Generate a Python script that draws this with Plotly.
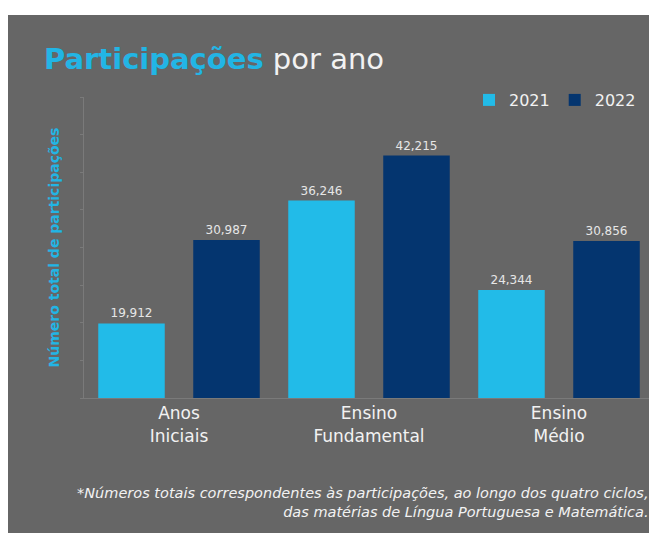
import plotly.graph_objects as go

categories = ["Anos<br>Iniciais", "Ensino<br>Fundamental", "Ensino<br>Médio"]
years = ["2021", "2022"]
values_2021 = [19912, 36246, 24344]
values_2022 = [30987, 42215, 30856]

W, H = 657, 533
OFF = 8  # page body margin: screen px = figure px + 8
# plot area in screen pixels
SX0, SX1, SY0, SY1 = 84, 654, 97, 398
L, T = SX0 - OFF, SY0 - OFF
R, B = W - (SX1 - OFF), H - (SY1 - OFF)
PW, PH = W - L - R, H - T - B

def px_x(x):
    return (x - SX0) / PW

def px_y(y):
    return (SY1 - y) / PH

BG = "#666666"
C1 = "#22BBE8"
C2 = "#04356F"
TXT = "#F2F2F2"
FONT = "DejaVu Sans"
AX = "#7A7A7A"

fig = go.Figure()
for name, vals, col in [(years[0], values_2021, C1), (years[1], values_2022, C2)]:
    fig.add_trace(go.Bar(
        x=categories, y=vals, name=name, marker_color=col,
        marker_line_width=0,
        texttemplate="%{y:,}", textposition="outside",
        textfont=dict(color="#E6E6E6", size=12, family=FONT),
        cliponaxis=False,
    ))

fig.add_shape(type="rect", xref="paper", yref="paper",
              x0=px_x(0), x1=px_x(W + 20), y0=px_y(H + 20), y1=px_y(15),
              fillcolor=BG, line_width=0, layer="below")

fig.update_layout(
    width=W, height=H,
    margin=dict(l=L, r=R, t=T, b=B, autoexpand=False),
    paper_bgcolor="white", plot_bgcolor="rgba(0,0,0,0)",
    barmode="group", bargap=0.0, bargroupgap=0.3,
    font=dict(family=FONT, color=TXT),
    showlegend=True,
    legend=dict(orientation="h", x=px_x(469), xanchor="left",
                y=px_y(100), yanchor="middle",
                font=dict(size=16, color=TXT, family=FONT),
                bgcolor="rgba(0,0,0,0)", traceorder="normal"),
    title=dict(
        text="<b><span style='color:#22B5E5'>Participações</span></b> por ano",
        font=dict(size=29, color=TXT, family=FONT),
        xref="container", yref="container",
        x=(44 - OFF) / W, xanchor="left", y=1 - (59 - OFF) / H, yanchor="middle",
    ),
)

fig.update_xaxes(
    showline=True, linecolor=AX, linewidth=1,
    tickfont=dict(size=17, color=TXT, family=FONT),
    ticks="", showgrid=False,
)
fig.update_yaxes(
    range=[10000, 50000], dtick=5000, tick0=0,
    showline=True, linecolor=AX, linewidth=1,
    ticks="outside", ticklen=3, tickcolor=AX,
    showticklabels=False, showgrid=False, zeroline=False,
    title=dict(text="<b>Número total de participações</b>",
               font=dict(size=14, color="#22B5E5", family=FONT),
               standoff=17),
)

fig.add_annotation(
    xref="paper", yref="paper", x=px_x(651), y=px_y(502),
    xanchor="right", yanchor="middle", align="right", showarrow=False,
    text="<i>*Números totais correspondentes às participações, ao longo dos quatro ciclos,<br>das matérias de Língua Portuguesa e Matemática.</i>",
    font=dict(size=14.5, color=TXT, family=FONT),
)

fig.write_html("out.html")
